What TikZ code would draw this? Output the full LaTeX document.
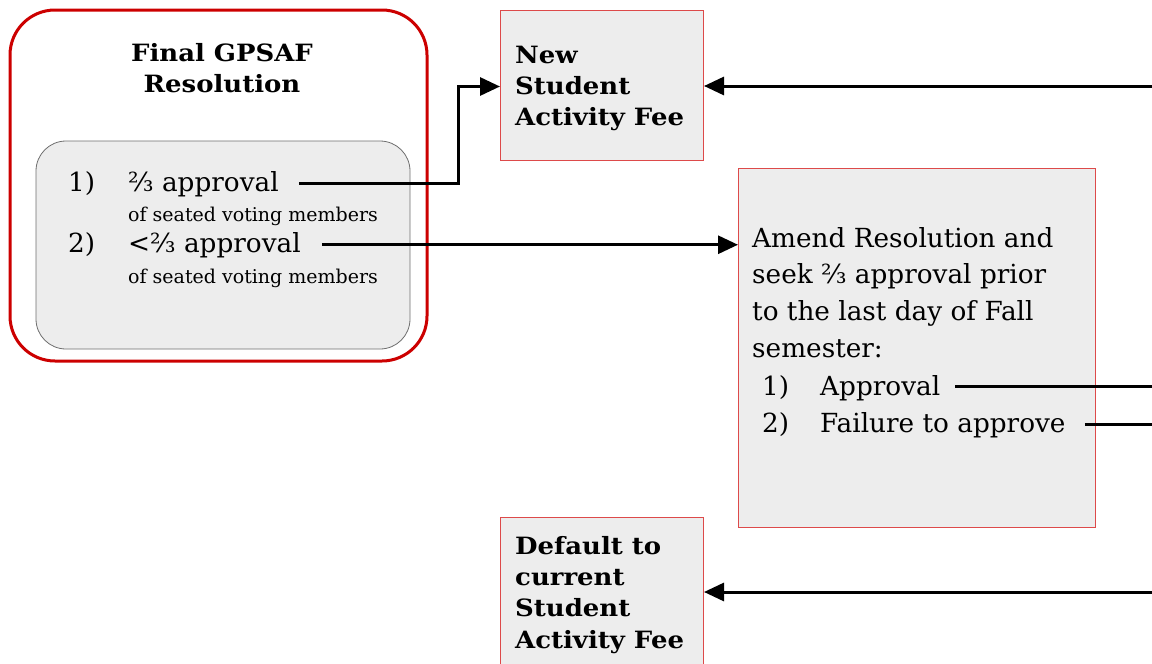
\documentclass[tikz,border=0pt]{standalone}
\usepackage{fontspec}
\setmainfont{DejaVu Serif}
\newfontfamily\widebold{DejaVu Serif}[FakeStretch=1.09]
\usetikzlibrary{arrows.meta}
\definecolor{boxgray}{HTML}{EDEDED}
\definecolor{boxred}{HTML}{DD4A4A}
\definecolor{outerred}{HTML}{CC0000}
\definecolor{panelgray}{HTML}{6E6E6E}
\begin{document}
\begin{tikzpicture}[x=1pt,y=-1pt,
  outerbox/.style={draw=outerred, line width=3pt, rounded corners=45pt},
  panelbox/.style={draw=panelgray, fill=boxgray, line width=0.8pt, rounded corners=30pt},
  feebox/.style={draw=boxred, fill=boxgray, line width=1pt},
  txt/.style={anchor=base west, inner sep=0pt, font=\fontsize{26.3}{30}\selectfont},
  smalltxt/.style={anchor=base west, inner sep=0pt, font=\fontsize{19}{22}\selectfont},
  boldtxt/.style={anchor=base west, inner sep=0pt, font=\fontsize{23.8}{28}\selectfont\widebold\bfseries},
  titletxt/.style={anchor=base, inner sep=0pt, font=\fontsize{23.8}{28}\selectfont\widebold\bfseries},
  conn/.style={line width=3pt, -{Triangle[length=20pt,width=18pt]}},
  plain/.style={line width=3pt}
]
\useasboundingbox (0,0) rectangle (1152,664);

% left resolution
\draw[outerbox] (10,10) rectangle (427,361);
\node[titletxt] (t1) at (222,61) {Final GPSAF};
\node[titletxt] (t2) at (222,92) {Resolution};
\draw[panelbox] (36,141) rectangle (410,349);
\node[txt] (n1) at (68,191) {1)};
\node[txt] (a1) at (128,191) {⅔ approval};
\node[smalltxt] (s1) at (128,221) {of seated voting members};
\node[txt] (n2) at (68,252) {2)};
\node[txt] (a2) at (128,252) {<⅔ approval};
\node[smalltxt] (s2) at (128,283) {of seated voting members};

% new fee box
\node[feebox, anchor=north west, minimum width=203pt, minimum height=150pt, inner sep=0pt] (new) at (500,10) {};
\node[boldtxt] (new1) at (515,63) {New};
\node[boldtxt] (new2) at (515,94) {Student};
\node[boldtxt] (new3) at (515,125) {Activity Fee};

% amend box
\node[feebox, anchor=north west, minimum width=357pt, minimum height=359pt, inner sep=0pt] (amend) at (738,168) {};
\node[txt] (m1) at (752,247) {Amend Resolution and};
\node[txt] (m2) at (752,283) {seek ⅔ approval prior};
\node[txt] (m3) at (752,320) {to the last day of Fall};
\node[txt] (m4) at (752,357) {semester:};
\node[txt] (k1) at (762,395) {1)};
\node[txt] (ap) at (820,395) {Approval};
\node[txt] (k2) at (762,432) {2)};
\node[txt] (fa) at (820,432) {Failure to approve};

% default box
\node[feebox, anchor=north west, minimum width=203pt, minimum height=160pt, inner sep=0pt] (def) at (500,517) {};
\node[boldtxt] (d1) at (515,554) {Default to};
\node[boldtxt] (d2) at (515,585) {current};
\node[boldtxt] (d3) at (515,616) {Student};
\node[boldtxt] (d4) at (515,648) {Activity Fee};

% coordinates
\coordinate (bend) at (458,0);
\coordinate (rin1) at (1153,86);
\coordinate (rin3) at (1153,592);
\coordinate (rout1) at (1153,0);

% connectors
\draw[conn, shorten <=20pt] (a1.east) -- (a1.east -| bend) |- ([yshift=-1pt]new.west);
\draw[conn, shorten <=21pt] (a2.east) -- (a2.east -| amend.west);
\draw[conn] (rin1) -- (rin1 -| new.east);
\draw[conn] (rin3) -- (rin3 -| def.east);
\draw[plain, shorten <=15pt] ([yshift=1pt]ap.east) -- ([yshift=1pt]ap.east -| rout1);
\draw[plain, shorten <=19pt] (fa.east) -- (fa.east -| rout1);
\end{tikzpicture}
\end{document}
